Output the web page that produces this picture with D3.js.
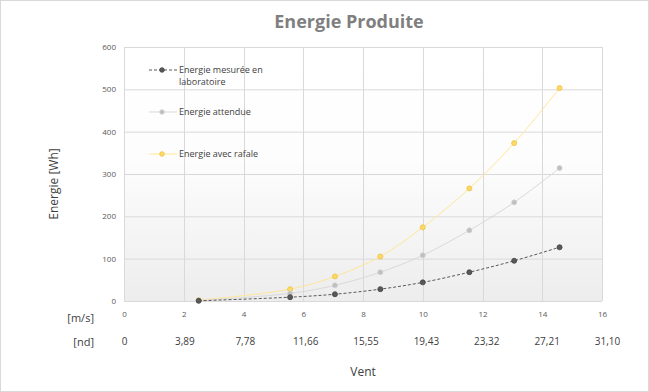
<!DOCTYPE html>
<html>
<head>
<meta charset="utf-8">
<script src="https://cdn.jsdelivr.net/npm/d3@7"></script>
<style>
  body { margin: 0; background: #fff; font-family: "Open Sans", sans-serif; }
</style>
</head>
<body>
<div id="chart"></div>
<script>
// wind speed [m/s]
const vent = [2.5, 5.56, 7.06, 8.58, 10, 11.56, 13.06, 14.58];
const energieLabo = [0.5, 9, 16, 28, 44, 68, 95, 127];
const energieAttendue = [1, 18, 37, 68, 108, 167, 233, 314];
const energieRafale = [2, 28, 58, 105, 174, 266, 373, 503];
const seriesNames = ["Energie mesurée en laboratoire", "Energie attendue", "Energie avec rafale"];
const msTicks = [0, 2, 4, 6, 8, 10, 12, 14, 16];
const ndTicks = ["0", "3,89", "7,78", "11,66", "15,55", "19,43", "23,32", "27,21", "31,10"];
const yTicks = [0, 100, 200, 300, 400, 500, 600];

const width = 649, height = 392;
const margin = {top: 47, bottom: 91, left: 124, right: 47};

const svg = d3.select("#chart").append("svg")
  .attr("width", width).attr("height", height);

// outer frame
svg.append("rect").attr("x", 0.5).attr("y", 0.5)
  .attr("width", width - 1).attr("height", height - 1)
  .attr("fill", "#fff").attr("stroke", "#d9d9d9");

const x = d3.scaleLinear().domain([0, 16]).range([margin.left, width - margin.right]);
const y = d3.scaleLinear().domain([0, 600]).range([height - margin.bottom, margin.top]);
const xNd = d3.scalePoint().domain(ndTicks).range([124, 607]);

const grad = svg.append("defs").append("linearGradient")
  .attr("id", "bg").attr("x1", 0).attr("x2", 0).attr("y1", 0).attr("y2", 1);
grad.append("stop").attr("offset", "0%").attr("stop-color", "#ffffff");
grad.append("stop").attr("offset", "45%").attr("stop-color", "#fdfdfd");
grad.append("stop").attr("offset", "100%").attr("stop-color", "#ededed");

svg.append("rect")
  .attr("x", x(0)).attr("y", y(600))
  .attr("width", x(16) - x(0)).attr("height", y(0) - y(600))
  .attr("fill", "url(#bg)");

// grid
svg.append("g").selectAll("line").data(yTicks).join("line")
  .attr("x1", x(0)).attr("x2", x(16))
  .attr("y1", d => y(d) + 0.5).attr("y2", d => y(d) + 0.5)
  .attr("stroke", "#d9d9d9");
svg.append("g").selectAll("line").data(msTicks).join("line")
  .attr("y1", y(0)).attr("y2", y(600))
  .attr("x1", d => Math.round(x(d)) + 0.5).attr("x2", d => Math.round(x(d)) + 0.5)
  .attr("stroke", "#d9d9d9");

// axes
const yAxis = svg.append("g").attr("transform", `translate(${x(0) - 5},0)`)
  .call(d3.axisLeft(y).tickValues(yTicks).tickSize(0));
yAxis.select(".domain").remove();
yAxis.selectAll("text").attr("fill", "#595959").style("font-size", "8px").style("font-family", "Open Sans");

const xAxis = svg.append("g").attr("transform", `translate(0,${y(0) + 7})`)
  .call(d3.axisBottom(x).tickValues(msTicks).tickSize(0));
xAxis.select(".domain").remove();
xAxis.selectAll("text").attr("fill", "#595959").style("font-size", "8px").style("font-family", "Open Sans");

const ndAxis = svg.append("g").attr("transform", `translate(0,${335})`)
  .call(d3.axisBottom(xNd).tickSize(0));
ndAxis.select(".domain").remove();
ndAxis.selectAll("text").attr("fill", "#404040").style("font-size", "10px").style("font-family", "Open Sans");

svg.append("text").attr("x", 94).attr("y", 322).attr("text-anchor", "end")
  .attr("fill", "#404040").style("font-size", "11px").text("[m/s]");
svg.append("text").attr("x", 94).attr("y", 346).attr("text-anchor", "end")
  .attr("fill", "#404040").style("font-size", "11px").text("[nd]");

svg.append("text").attr("x", 363).attr("y", 376).attr("text-anchor", "middle")
  .attr("fill", "#404040").style("font-size", "12px").text("Vent");

svg.append("text").attr("transform", `translate(58,184) rotate(-90)`)
  .attr("text-anchor", "middle").attr("fill", "#404040").style("font-size", "12px")
  .text("Energie  [Wh]");

svg.append("text").attr("x", 349).attr("y", 28).attr("text-anchor", "middle")
  .attr("fill", "#7f7f7f").style("font-size", "18px").style("font-weight", "bold")
  .text("Energie Produite");

// series
const styles = [
  {values: energieLabo, line: "#595959", dash: "3,2", fill: "#595959", stroke: "#404040"},
  {values: energieAttendue, line: "#d9d9d9", dash: null, fill: "#bfbfbf", stroke: "#d0d0d0"},
  {values: energieRafale, line: "#ffe699", dash: null, fill: "#ffd966", stroke: "#ebc240"}
];

const line = d3.line().x(d => x(d[0])).y(d => y(d[1])).curve(d3.curveCatmullRom.alpha(0.5));

styles.slice().reverse().forEach(s => {
  const pts = vent.map((v, i) => [v, s.values[i]]);
  svg.append("path").datum(pts).attr("d", line)
    .attr("fill", "none").attr("stroke", s.line).attr("stroke-width", 1)
    .attr("stroke-dasharray", s.dash);
  svg.append("g").selectAll("circle").data(pts).join("circle")
    .attr("cx", d => x(d[0])).attr("cy", d => y(d[1])).attr("r", 2.5)
    .attr("fill", s.fill).attr("stroke", s.stroke).attr("stroke-width", 0.8);
});

// legend
const legendY = [70, 112, 154];
const legend = svg.append("g");
styles.forEach((s, i) => {
  const g = legend.append("g").attr("transform", `translate(0,${legendY[i]})`);
  g.append("line").attr("x1", 149).attr("x2", 177).attr("y1", 0).attr("y2", 0)
    .attr("stroke", s.line).attr("stroke-dasharray", s.dash);
  g.append("circle").attr("cx", 162).attr("cy", 0).attr("r", 2.3)
    .attr("fill", s.fill).attr("stroke", s.stroke).attr("stroke-width", 0.8);
  const t = g.append("text").attr("x", 179).attr("y", 3)
    .attr("fill", "#404040").style("font-size", "9px");
  if (i === 0) {
    t.append("tspan").attr("x", 179).text("Energie mesurée en");
    t.append("tspan").attr("x", 179).attr("dy", 12).text("laboratoire");
  } else {
    t.text(seriesNames[i]);
  }
});
</script>
</body>
</html>
